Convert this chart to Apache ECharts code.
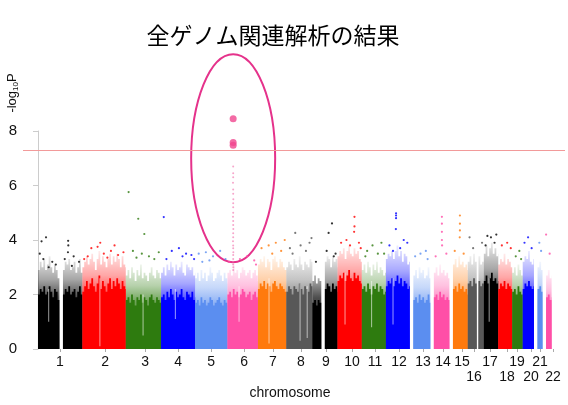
<!DOCTYPE html>
<html><head><meta charset="utf-8">
<script src="https://cdn.jsdelivr.net/npm/echarts@6/dist/echarts.min.js"></script>
<style>html,body{margin:0;padding:0;background:#fff}#c{width:568px;height:405px}</style>
</head><body><div id="c"></div>
<script>
// ---- data ----
const chrNames = ['1','2','3','4','5','6','7','8','9','10','11','12','13','14','15','16','17','18','19','20','21','22'];
const chrLengthMb = [249,243,198,191,181,171,159,146,141,136,135,134,115,107,103,90,81,78,59,63,48,51];
const chrPalette = ['#000000','#ff0000','#2e7b0f','#0000ff','#5b8ef0','#ff4fa7','#ff7a0d','#585858'];
const tickPosMb = [123,376,600,785,970,1155,1317,1474,1614,1760,1889,2024,2158,2270,2377,2444,2534,2629,2685,2763,2814,2887];
const secondRowLabels = ['16','18','20','22'];
const binMb = 10;
const threshold = 7.3;

// upper edge of the solid (dense) band, per 10 Mb bin
const solidTop = [
 [2.0,2.2,2.1,2.3,2.0,2.1,2.3,2.1,1.9,2.2,2.1,1.8,0,0,2.0,2.2,2.1,2.3,2.0,2.1,2.2,1.9,2.1,2.3,2.0],
 [2.1,2.3,2.5,2.2,2.4,2.6,2.3,2.1,2.4,2.7,2.2,2.5,2.3,2.1,2.4,2.6,2.2,2.5,2.3,2.6,2.4,2.2,2.5,2.3,2.2],
 [1.8,1.9,1.7,2.0,1.8,1.6,1.9,1.8,2.0,1.7,1.9,1.8,1.6,1.9,2.0,1.8,1.7,1.9,1.8,1.7],
 [1.9,2.0,1.8,2.1,1.9,2.2,2.0,1.8,2.1,1.9,2.0,2.2,1.9,1.8,2.1,2.0,1.9,2.1,1.8,1.9],
 [1.7,1.8,1.6,1.9,1.7,1.8,1.6,1.7,1.9,1.8,1.6,1.7,1.8,1.9,1.7,1.6,1.8,1.7,1.6],
 [2.0,2.1,1.9,2.2,2.0,2.1,1.9,2.0,2.2,2.1,1.9,2.0,2.1,1.8,2.0,2.1,1.9,1.8],
 [2.2,2.4,2.3,2.5,2.2,2.4,2.3,2.1,2.4,2.5,2.3,2.2,2.4,2.3,2.2,2.1],
 [2.1,2.3,2.2,2.0,2.3,2.2,2.1,2.4,2.2,2.0,2.3,2.2,2.1,2.4,2.3],
 [1.7,1.8,1.6,1.8,1.7,0,0,2.2,2.4,2.3,2.1,2.4,2.2,2.3,2.1],
 [2.5,2.7,2.6,2.8,2.5,2.7,2.9,2.6,2.5,2.8,2.6,2.7,2.5,2.4],
 [2.2,2.3,2.1,2.4,2.2,2.0,2.3,2.2,2.4,2.1,2.3,2.2,2.0,2.1],
 [2.3,2.5,2.4,2.6,2.3,2.5,2.7,2.4,2.6,2.3,2.5,2.4,2.2,2.3],
 [0,0,1.8,1.9,1.7,2.0,1.8,1.9,1.7,1.8,2.0,1.7],
 [0,0,1.9,2.0,1.8,2.1,1.9,2.0,1.8,1.9,1.8],
 [0,0,2.2,2.3,2.1,2.4,2.2,2.3,2.1,2.2,2.0],
 [2.4,2.5,2.3,2.6,2.4,0,2.5,2.3,2.4],
 [2.5,2.7,2.4,2.6,2.8,2.5,2.6,2.4,2.5],
 [2.2,2.4,2.3,2.5,2.2,2.4,2.3,2.2],
 [2.1,2.2,2.0,2.3,2.1,2.0],
 [2.2,2.4,2.3,2.5,2.3,2.2,2.3],
 [0,0,2.2,2.3,2.1],
 [0,0,1.9,2.0,1.8,1.9]
];
// upper edge of the speckled band above it
const fringeTop = [
 [2.9,3.2,3.0,3.3,2.9,3.1,3.4,3.0,2.8,3.1,2.9,2.6,0,0,2.9,3.2,3.1,3.3,2.9,3.0,3.2,2.8,3.0,3.3,2.8],
 [3.0,3.2,3.4,3.1,3.3,3.5,3.2,2.9,3.3,3.6,3.1,3.4,3.2,3.0,3.3,3.5,3.1,3.4,3.2,3.5,3.3,3.0,3.4,3.1,3.0],
 [2.7,2.9,2.6,3.0,2.8,2.5,2.9,2.7,3.1,2.6,2.8,2.7,2.5,2.8,3.0,2.7,2.6,2.9,2.8,2.6],
 [2.8,3.0,2.7,3.1,2.9,3.2,3.0,2.7,3.1,2.9,3.0,3.2,2.8,2.7,3.1,3.0,2.9,3.0,2.7,2.8],
 [2.6,2.8,2.5,2.9,2.6,2.8,2.5,2.7,3.0,2.8,2.5,2.6,2.8,2.9,2.7,2.5,2.8,2.6,2.4],
 [2.8,2.9,2.7,3.1,2.8,2.9,2.6,2.8,3.0,2.9,2.7,2.8,2.9,2.6,2.8,2.9,2.7,2.5],
 [3.1,3.3,3.2,3.4,3.0,3.3,3.2,2.9,3.3,3.4,3.2,3.0,3.3,3.2,3.0,2.9],
 [3.0,3.2,3.1,2.9,3.3,3.1,3.0,3.4,3.1,2.9,3.2,3.1,3.0,3.3,3.2],
 [2.5,2.7,2.4,2.6,2.5,0,0,3.2,3.4,3.3,3.0,3.4,3.2,3.3,3.0],
 [3.4,3.6,3.5,3.7,3.3,3.6,3.8,3.5,3.4,3.7,3.5,3.6,3.3,3.2],
 [2.9,3.1,2.8,3.2,3.0,2.7,3.1,2.9,3.2,2.8,3.0,2.9,2.7,2.8],
 [3.3,3.5,3.4,3.6,3.3,3.6,3.8,3.4,3.6,3.2,3.5,3.4,3.1,3.2],
 [0,0,2.7,2.9,2.6,3.0,2.8,2.9,2.6,2.7,3.0,2.6],
 [0,0,2.8,3.0,2.7,3.1,2.8,2.9,2.7,2.8,2.6],
 [0,0,3.1,3.3,3.0,3.4,3.1,3.2,3.0,3.1,2.9],
 [3.2,3.4,3.1,3.5,3.2,0,3.4,3.1,3.2],
 [3.5,3.8,3.4,3.7,3.9,3.5,3.7,3.4,3.5],
 [3.1,3.3,3.2,3.5,3.1,3.3,3.2,3.0],
 [2.8,3.0,2.7,3.1,2.9,2.7],
 [3.2,3.4,3.3,3.6,3.2,3.1,3.3],
 [0,0,3.0,3.2,2.9],
 [0,0,2.7,2.9,2.6,2.7]
];
// thin low-coverage streaks inside the bands: [chromosome, position (Mb), from, to]
const sparseStreaks = [
 [2,98,0.1,2.6],[3,97,0.5,2.0],[6,65,1.0,2.3],[7,62,0.2,2.6],[8,77,0.3,2.4],[8,117,0.4,2.3],
 [10,42,0.9,2.8],[11,55,0.8,2.5],[12,40,0.9,2.6],[1,60,1.0,2.2],[4,80,1.1,2.2],[17,30,1.0,2.6]
];
// isolated SNPs above the bands: [chromosome, position (Mb), -log10 P]
const snpPoints = [
 [1,45,4.1],[1,20,3.95],[1,10,3.5],[1,30,3.3],[1,100,3.1],[1,80,3.2],[1,169,3.97],[1,170,3.8],[1,168,3.55],[1,200,3.4],[1,230,3.2],[1,60,3.0],[1,150,3.3],[1,190,3.05],
 [2,50,3.7],[2,85,3.75],[2,30,3.4],[2,120,3.5],[2,160,3.6],[2,200,3.45],[2,230,3.55],[2,10,3.3],[2,140,3.35],[2,180,3.8],[2,100,3.9],
 [3,16,5.76],[3,70,4.78],[3,104,4.22],[3,40,3.6],[3,90,3.5],[3,130,3.4],[3,160,3.3],[3,185,3.55],[3,60,3.35],
 [4,15,4.84],[4,60,3.6],[4,100,3.7],[4,140,3.5],[4,170,3.45],[4,30,3.3],[4,120,3.4],[4,185,3.3],
 [5,20,3.5],[5,60,3.55],[5,100,3.4],[5,140,3.6],[5,170,3.3],[5,80,3.25],[5,40,3.2],
 [6,10,3.2],[6,70,3.3],[6,110,3.4],[6,150,3.25],[6,160,3.1],
 [7,20,3.7],[7,60,3.8],[7,100,3.9],[7,130,3.6],[7,150,4.0],[7,80,3.5],
 [8,50,4.26],[8,141,4.07],[8,20,3.7],[8,80,3.8],[8,110,3.6],[8,130,3.9],[8,35,3.5],
 [9,91,4.26],[9,110,4.61],[9,20,3.2],[9,80,3.6],[9,130,3.5],[9,120,3.4],
 [10,95,4.85],[10,95,4.5],[10,93,4.3],[10,20,3.9],[10,50,4.0],[10,70,3.8],[10,120,3.9],[10,130,3.7],
 [11,30,3.6],[11,60,3.8],[11,90,3.5],[11,110,3.9],[11,20,3.4],[11,125,3.5],
 [12,57,4.98],[12,57,4.9],[12,57,4.8],[12,56,4.4],[12,20,3.8],[12,100,4.0],[12,120,3.9],[12,80,3.7],[12,40,3.6],
 [13,30,3.4],[13,60,3.5],[13,90,3.6],[13,100,3.3],
 [14,65,4.85],[14,65,4.6],[14,65,4.3],[14,65,4.0],[14,66,3.8],[14,30,3.4],[14,90,3.5],
 [15,59,4.9],[15,59,4.6],[15,59,4.35],[15,58,4.1],[15,30,3.6],[15,80,3.5],
 [16,10,4.1],[16,80,3.9],[16,30,3.7],
 [17,20,4.15],[17,40,4.1],[17,60,3.9],[17,70,4.2],[17,10,3.8],
 [18,20,3.8],[18,50,3.9],[18,70,3.7],
 [19,20,3.4],[19,40,3.6],[19,50,3.3],
 [20,10,3.9],[20,30,4.1],[20,50,3.7],
 [21,30,3.9],[21,40,3.6],
 [22,20,4.2],[22,40,3.5]
];
// chromosome 6 signal (MHC region)
const leadSnps = [[6,32,8.45],[6,32,7.58],[6,32,7.48]];
const leadColumn = [[6,32,6.7],[6,32,6.45],[6,32,6.3],[6,31,6.1],[6,32,5.85],[6,32,5.7],[6,33,5.5],[6,32,5.35],[6,32,5.2],[6,32,5.0],[6,31,4.85],[6,32,4.7],[6,32,4.55],[6,33,4.4],[6,32,4.25],[6,32,4.1],[6,31,3.95],[6,32,3.8],[6,32,3.7],[6,33,3.55],[6,32,3.45],[6,32,3.3],[6,31,3.2],[6,32,3.1],[6,33,3.0],[6,32,2.9]];

// ---- build ----
const chrStart = [];
(function(){ let acc = 0; chrLengthMb.forEach(l => { chrStart.push(acc); acc += l; }); })();
function chrItems(tops) {
  return tops.map((arr, ci) => [chrStart[ci], chrStart[ci] + chrLengthMb[ci], Math.max.apply(null, arr), ci]);
}
function rgba(hex, a) {
  const n = parseInt(hex.slice(1), 16);
  return 'rgba(' + (n >> 16) + ',' + ((n >> 8) & 255) + ',' + (n & 255) + ',' + a + ')';
}
function bandRender(tops, faded) {
  return function (params, api) {
    const ci = api.value(3), arr = tops[ci];
    const s = chrStart[ci], e = s + chrLengthMb[ci];
    const points = [api.coord([s, 0])];
    arr.forEach((h, bi) => {
      const x0 = s + bi * binMb, x1 = Math.min(s + (bi + 1) * binMb, e);
      points.push(api.coord([x0, h]));
      points.push(api.coord([x1, h]));
    });
    points.push(api.coord([e, 0]));
    const c = chrPalette[ci % 8];
    const fill = faded
      ? new echarts.graphic.LinearGradient(0, 0, 0, 1, [
          { offset: 0, color: rgba(c, 0.08) },
          { offset: 0.25, color: rgba(c, 0.35) },
          { offset: 0.45, color: rgba(c, 0.7) },
          { offset: 1, color: rgba(c, 0.9) }])
      : c;
    return { type: 'polygon', shape: { points: points }, style: { fill: fill } };
  };
}
function streakRender(params, api) {
  const a = api.coord([api.value(0), api.value(2)]);
  const b = api.coord([api.value(0), api.value(1)]);
  return { type: 'rect', shape: { x: a[0] - 0.5, y: a[1], width: 1, height: b[1] - a[1] },
    style: { fill: 'rgba(255,255,255,0.6)' } };
}
function pts(list) { return list.map(p => [chrStart[p[0]-1] + p[1], p[2], p[0]-1]); }
const labelMap = {};
tickPosMb.forEach((v, i) => { labelMap[v] = chrNames[i]; });
const row1Pos = tickPosMb.filter((v, i) => !secondRowLabels.includes(chrNames[i]));
const row2Pos = tickPosMb.filter((v, i) => secondRowLabels.includes(chrNames[i]));
const numFont = '"Liberation Sans", Arial, sans-serif';
const labelBase = { fontSize: 14, color: '#111', fontFamily: numFont, hideOverlap: false, formatter: v => labelMap[v] || '' };

const chart = echarts.init(document.getElementById('c'), null, { renderer: 'canvas' });
chart.setOption({
  animation: false,
  backgroundColor: '#ffffff',
  grid: { left: 23, right: 3, top: 131, bottom: 56 },
  xAxis: [{
    type: 'value', min: -84, max: 2954,
    axisLine: { show: false }, splitLine: { show: false },
    axisTick: { show: true, customValues: tickPosMb, length: 3, lineStyle: { color: '#aaaaaa' } },
    axisLabel: Object.assign({ customValues: row1Pos, margin: 6 }, labelBase)
  }, {
    type: 'value', min: -84, max: 2954, position: 'bottom',
    axisLine: { show: false }, splitLine: { show: false }, axisTick: { show: false },
    axisLabel: Object.assign({ customValues: row2Pos, margin: 21 }, labelBase)
  }],
  yAxis: {
    type: 'value', min: 0, max: 8, interval: 2,
    axisLine: { show: true, lineStyle: { color: '#cccccc' } },
    axisTick: { show: true, length: 5, lineStyle: { color: '#cccccc' } },
    splitLine: { show: false },
    axisLabel: { fontSize: 15, color: '#111', margin: 6, fontFamily: numFont }
  },
  series: [
    { type: 'custom', renderItem: bandRender(fringeTop, true), data: chrItems(fringeTop), encode: { x: [0, 1], y: 2 }, silent: true },
    { type: 'custom', renderItem: bandRender(solidTop, false), data: chrItems(solidTop), encode: { x: [0, 1], y: 2 }, silent: true },
    { type: 'custom', renderItem: streakRender, data: sparseStreaks.map(s => [chrStart[s[0]-1] + s[1], s[2], s[3]]), encode: { x: 0, y: [1, 2] }, silent: true },
    { type: 'scatter', data: pts(snpPoints), symbolSize: 2.2, silent: true,
      itemStyle: { color: p => chrPalette[p.data[2] % 8], opacity: 0.8 },
      markLine: { silent: true, symbol: ['none', 'none'], label: { show: false },
        lineStyle: { color: '#f29a9a', width: 1, type: 'solid' }, data: [{ yAxis: threshold }] } },
    { type: 'scatter', data: pts(leadColumn), symbolSize: 2, silent: true, clip: false,
      itemStyle: { color: '#f06aa8', opacity: 0.6 } },
    { type: 'scatter', data: pts(leadSnps), symbolSize: 7, silent: true, clip: false,
      itemStyle: { color: '#f0468f' } }
  ]
});

const ctr = chart.convertToPixel({ gridIndex: 0 }, [chrStart[5] + 32, 7.0]);
chart.setOption({
  graphic: [
    { type: 'text', x: 273, y: 35, style: { text: '全ゲノム関連解析の結果', font: '23px "Noto Sans CJK JP"', fill: '#000', align: 'center', verticalAlign: 'middle' } },
    { type: 'text', x: 12, y: 93, rotation: Math.PI / 2,
      style: { text: '{a|-log}{s|10}{a|P}', align: 'center', verticalAlign: 'middle', fill: '#111',
        rich: { a: { fontSize: 13, fontFamily: numFont, lineHeight: 16, verticalAlign: 'middle' },
                s: { fontSize: 8, fontFamily: numFont, lineHeight: 16, verticalAlign: 'bottom' } } } },
    { type: 'text', x: 290, y: 393, style: { text: 'chromosome', font: '14px ' + numFont, fill: '#111', align: 'center', verticalAlign: 'middle' } },
    { type: 'ellipse', shape: { cx: ctr[0], cy: ctr[1], rx: 42, ry: 104 }, style: { fill: 'none', stroke: '#e5328b', lineWidth: 2 } }
  ]
});
</script></body></html>
